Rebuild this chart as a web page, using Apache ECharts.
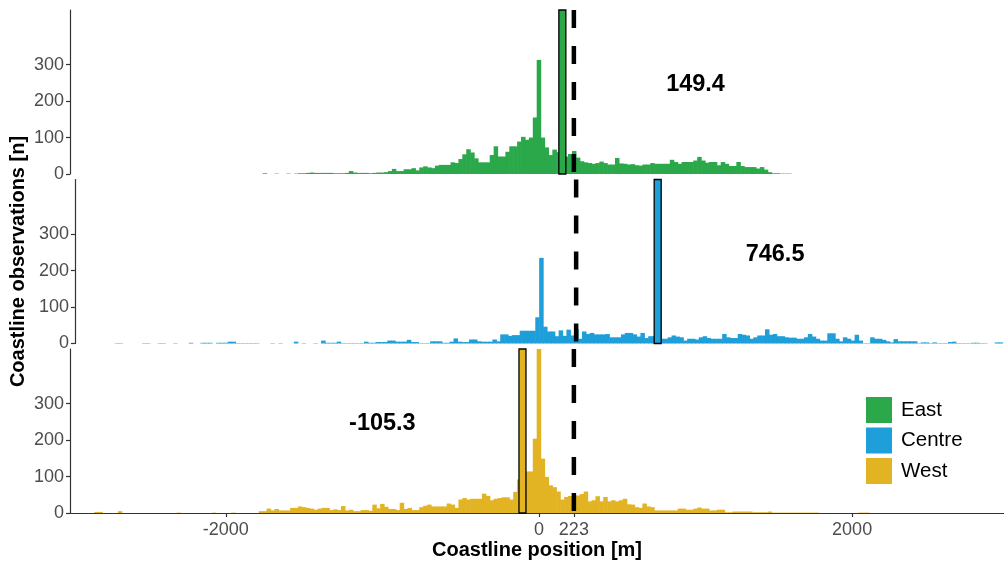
<!DOCTYPE html>
<html>
<head>
<meta charset="utf-8">
<script src="https://cdn.jsdelivr.net/npm/echarts@6/dist/echarts.min.js"></script>
<style>
html,body{margin:0;padding:0;background:#fff;}
#chart{width:1004px;height:561px;}
</style>
</head>
<body>
<div id="chart"></div>
<script>
// ---------- data ----------
const binWidth = 25;            // metres per histogram bin
const referenceLine = 223;      // dashed reference position [m]
const groups = ['East', 'Centre', 'West'];
const means = [149.4, 746.5, -105.3];
const xTickValues = [-2000, 0, 223, 2000];
const yTickValues = [0, 100, 200, 300];

// centre of first bin [m] for each histogram
const eastStart = -1750;
const eastCounts = [
  2,0,0,1,0,0,1,0,1,2,
  2,3,4,3,3,3,3,3,2,2,
  2,3,8,4,3,3,3,2,3,4,
  4,5,8,14,8,8,13,13,16,10,
  18,21,18,16,23,25,25,25,32,30,
  41,54,68,59,43,32,32,32,52,76,
  48,48,61,76,76,89,102,94,100,155,
  313,100,73,52,67,60,55,48,55,63,
  45,35,32,30,28,30,34,30,26,26,
  44,29,28,26,27,24,23,26,26,30,
  28,28,28,28,39,33,28,33,33,33,
  37,47,37,31,33,33,24,33,28,22,
  22,33,22,19,19,19,15,19,12,5,
  2,2,1,1,1
];

const centreStart = -2725;
const centreCounts = [
  1,1,0,0,0,0,0,1,1,0,
  0,1,1,0,0,1,0,0,0,2,
  0,0,2,2,2,0,2,2,2,5,
  5,1,1,1,1,1,1,0,0,0,
  1,0,1,0,0,0,5,0,1,0,
  0,1,0,8,2,2,2,5,1,1,
  1,1,1,1,5,2,2,4,4,4,
  8,8,5,5,5,10,4,4,1,1,
  1,6,6,6,2,2,5,14,5,4,
  4,11,11,6,5,5,5,11,6,25,
  25,21,23,23,35,35,35,35,72,235,
  46,33,33,20,36,21,38,22,40,13,
  33,26,29,25,25,25,26,17,17,17,
  25,29,29,25,19,29,15,20,20,20,
  13,13,17,22,19,17,8,13,13,11,
  17,20,15,13,13,13,26,17,15,15,
  26,24,22,13,17,22,22,39,24,26,
  20,20,17,16,16,13,13,17,26,19,
  13,8,8,28,28,13,6,17,13,8,
  24,8,1,1,17,13,13,10,6,3,
  12,6,6,6,6,6,1,3,3,1,
  3,1,1,1,4,5,1,1,1,1,
  2,2,1,1,0,0,3,3
];

const westStart = -2825;
const westCounts = [
  3,3,0,0,0,0,5,0,0,0,
  0,0,0,0,0,0,0,0,0,0,
  0,1,0,0,0,0,0,0,0,0,
  1,0,0,0,0,1,0,0,0,0,
  0,0,5,5,12,7,11,7,7,7,
  14,14,18,16,14,12,9,12,14,14,
  8,10,8,19,7,9,5,5,8,8,
  6,23,13,25,17,11,11,8,28,11,
  14,8,8,16,20,23,18,18,18,18,
  26,23,14,37,41,37,39,39,39,53,
  47,35,39,41,43,43,37,58,92,100,
  114,114,204,470,149,99,76,71,59,37,
  44,47,47,48,52,59,32,35,46,32,
  44,32,35,32,35,39,24,23,16,14,
  26,18,16,7,7,7,7,7,7,12,
  12,9,9,12,15,12,12,7,7,9,
  9,2,2,4,4,4,4,4,2,2,
  2,2,4,1,1,1,1,1,1,1,
  1,1,1,1,1,0,0,0,0,0,
  0,0,0,0,0,1,1,1
];

// ---------- layout / style ----------
const FONT = '"Liberation Sans", Arial, Helvetica, sans-serif';
const colors = ['#2ba84a', '#1e9fd9', '#e2b424'];
const labelAnchorX = [1000, 1500, -1000];   // annotation positions (data units)
const labelAnchorY = 245;
const X_MIN = -2995, X_MAX = 2970, Y_MAX = 450;
const GRID_TOP = 10, GRID_PITCH = 169.5, GRID_H = 164;

const starts = [eastStart, centreStart, westStart];
const counts = [eastCounts, centreCounts, westCounts];

function toPairs(start, arr) {
  return arr.map((c, i) => [start + i * binWidth, c]);
}

function renderBar(params, api) {
  const x = api.value(0), y = api.value(1);
  if (!y) return null;
  const p0 = api.coord([x - binWidth / 2, y]);
  const p1 = api.coord([x + binWidth / 2, 0]);
  const cs = params.coordSys;
  const shape = echarts.graphic.clipRectByRect(
    { x: p0[0] - 0.3, y: p0[1], width: p1[0] - p0[0] + 0.6, height: p1[1] - p0[1] },
    { x: cs.x, y: cs.y, width: cs.width, height: cs.height }
  );
  if (!shape) return null;
  return { type: 'rect', shape: shape, style: { fill: api.visual('color') } };
}

function makeMeanRenderer(idx) {
  return function (params, api) {
    const m = api.value(0);
    const top = api.coord([m, Y_MAX]);
    const bot = api.coord([m, 0]);
    const dTop = api.coord([referenceLine, Y_MAX]);
    const dBot = api.coord([referenceLine, 0]);
    const lab = api.coord([labelAnchorX[idx], labelAnchorY]);
    return {
      type: 'group',
      children: [
        { type: 'rect', shape: { x: top[0] - 3.5, y: top[1], width: 7, height: bot[1] - top[1] },
          style: { fill: colors[idx], stroke: '#000', lineWidth: 1.3 } },
        { type: 'line', shape: { x1: dTop[0], y1: dTop[1], x2: dBot[0], y2: dBot[1] },
          style: { stroke: '#000', lineWidth: 4.5, lineDash: [18, 18] } },
        { type: 'text', x: lab[0], y: lab[1],
          style: { text: m.toFixed(1), fill: '#000', font: 'bold 23.5px ' + FONT,
                   align: 'center', verticalAlign: 'middle' } }
      ]
    };
  };
}

const plainNumber = v => String(v);

const grids = [], xAxes = [], yAxes = [], series = [];
for (let i = 0; i < 3; i++) {
  grids.push({ left: 70, right: 0, top: GRID_TOP + i * GRID_PITCH, height: GRID_H, containLabel: false });
  const bottom = i === 2;
  xAxes.push({
    type: 'value', gridIndex: i, min: X_MIN, max: X_MAX, show: bottom,
    splitLine: { show: false },
    axisLine: { show: bottom, onZero: false, lineStyle: { color: '#333', width: 1.2 } },
    axisTick: { show: bottom, customValues: xTickValues, length: 4, lineStyle: { color: '#333', width: 1.2 } },
    axisLabel: { show: bottom, customValues: xTickValues, formatter: plainNumber,
                 fontSize: 18, color: '#4d4d4d', margin: 8, fontFamily: FONT },
    name: bottom ? 'Coastline position [m]' : '',
    nameLocation: 'middle', nameGap: 27,
    nameTextStyle: { fontSize: 20, fontWeight: 'bold', color: '#000', fontFamily: FONT }
  });
  yAxes.push({
    type: 'value', gridIndex: i, min: 0, max: Y_MAX,
    splitLine: { show: false },
    axisLine: { show: true, onZero: false, lineStyle: { color: '#333', width: 1.2 } },
    axisTick: { show: true, customValues: yTickValues, length: 4, lineStyle: { color: '#333', width: 1.2 } },
    axisLabel: { customValues: yTickValues, formatter: plainNumber,
                 fontSize: 18, color: '#4d4d4d', margin: 6, fontFamily: FONT },
    name: i === 1 ? 'Coastline observations [n]' : '',
    nameLocation: 'middle', nameGap: 42, nameRotate: 90,
    nameTextStyle: { fontSize: 20, fontWeight: 'bold', color: '#000', fontFamily: FONT }
  });
  series.push({
    type: 'custom', name: groups[i], xAxisIndex: i, yAxisIndex: i,
    itemStyle: { color: colors[i] },
    renderItem: renderBar, z: 2,
    data: toPairs(starts[i], counts[i])
  });
  series.push({
    type: 'custom', name: 'mean-' + groups[i], xAxisIndex: i, yAxisIndex: i,
    renderItem: makeMeanRenderer(i), z: 5, silent: true,
    data: [[means[i]]]
  });
}

const chart = echarts.init(document.getElementById('chart'), null, { renderer: 'canvas' });
chart.setOption({
  animation: false,
  backgroundColor: '#fff',
  textStyle: { fontFamily: FONT },
  grid: grids,
  xAxis: xAxes,
  yAxis: yAxes,
  legend: {
    data: groups, orient: 'vertical', left: 866, top: 397, padding: 0,
    itemWidth: 26, itemHeight: 26, itemGap: 4.5, icon: 'rect', selectedMode: false,
    textStyle: { fontSize: 20.5, color: '#000', fontFamily: FONT, padding: [0, 0, 0, 4] }
  },
  series: series
});
</script>
</body>
</html>
